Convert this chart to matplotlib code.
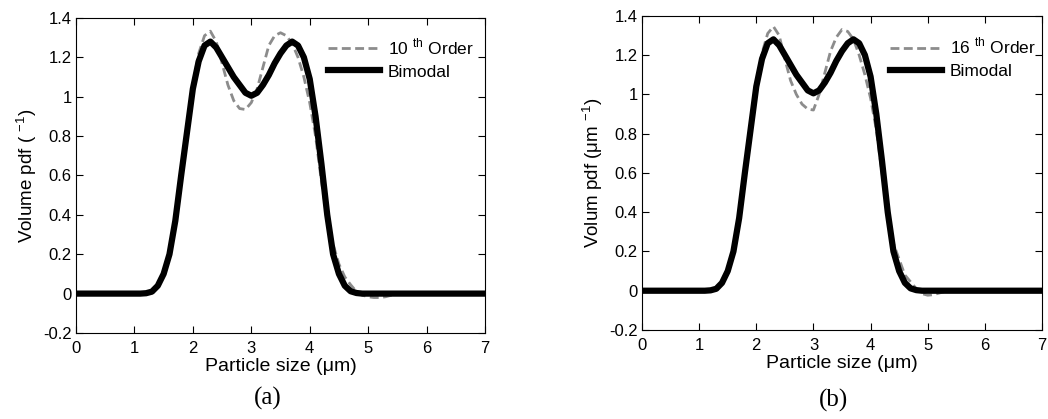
import matplotlib
matplotlib.use('Agg')
from matplotlib import pyplot as plt

plt.rcParams['font.family'] = ['Liberation Sans', 'DejaVu Sans']
plt.rcParams['mathtext.fontset'] = 'custom'
plt.rcParams['mathtext.rm'] = 'Liberation Sans'

# particle size grid (um)
size = [0, 1.0, 1.1, 1.2, 1.3, 1.4, 1.5, 1.6, 1.7, 1.8, 1.9, 2.0, 2.1, 2.2, 2.3, 2.4,
        2.5, 2.6, 2.7, 2.8, 2.9, 3.0, 3.1, 3.2, 3.3, 3.4, 3.5, 3.6, 3.7, 3.8, 3.9, 4.0,
        4.1, 4.2, 4.3, 4.4, 4.5, 4.6, 4.7, 4.8, 4.9, 5.0, 5.1, 5.2, 5.3, 5.4, 5.5, 5.6, 7]

bimodal = [0, 0, 0, 0.002, 0.01, 0.04, 0.1, 0.2, 0.37, 0.6, 0.82, 1.04, 1.18, 1.26, 1.28, 1.25,
           1.2, 1.15, 1.1, 1.06, 1.02, 1.005, 1.02, 1.06, 1.11, 1.17, 1.22, 1.26, 1.28, 1.26, 1.2, 1.09,
           0.9, 0.66, 0.4, 0.2, 0.1, 0.04, 0.012, 0.003, 0, 0, 0, 0, 0, 0, 0, 0, 0]

order10 = [0, 0, 0, 0.002, 0.01, 0.04, 0.1, 0.2, 0.37, 0.6, 0.83, 1.06, 1.22, 1.31, 1.333, 1.28,
           1.17, 1.06, 0.98, 0.94, 0.935, 0.97, 1.04, 1.15, 1.26, 1.31, 1.325, 1.31, 1.27, 1.2, 1.1, 0.97,
           0.8, 0.57, 0.38, 0.25, 0.15, 0.085, 0.045, 0.01, -0.008, -0.016, -0.02, -0.02, -0.016, -0.008, -0.002, 0, 0]

order16 = [0, 0, 0, 0.002, 0.01, 0.04, 0.1, 0.2, 0.37, 0.6, 0.83, 1.05, 1.21, 1.31, 1.345, 1.3,
           1.18, 1.07, 1.0, 0.95, 0.925, 0.92, 1.0, 1.11, 1.22, 1.29, 1.33, 1.32, 1.28, 1.2, 1.1, 0.98,
           0.82, 0.6, 0.38, 0.24, 0.16, 0.08, 0.045, 0.01, -0.015, -0.023, -0.02, -0.012, -0.004, 0, 0, 0, 0]

xticks = [0, 1, 2, 3, 4, 5, 6, 7]
yticks = [-0.2, 0, 0.2, 0.4, 0.6, 0.8, 1, 1.2, 1.4]


def draw(ax, approx, approx_label, ylabel, leg_anchor):
    ax.plot(size, approx, color='#8c8c8c', lw=2.0, ls=(0, (3.2, 1.6)), label=approx_label)
    ax.plot(size, bimodal, color='black', lw=4.5, label='Bimodal')
    ax.set_xlim(0, 7)
    ax.set_ylim(-0.2, 1.4)
    ax.set_xticks(xticks)
    ax.set_yticks(yticks)
    ax.set_yticklabels(['%g' % v for v in yticks])
    ax.tick_params(direction='in', top=True, right=True, labelsize=12, length=5, pad=3)
    ax.tick_params(axis='x', pad=6)
    ax.set_xlabel('Particle size (\u03bcm)', fontsize=14, labelpad=1)
    ax.set_ylabel(ylabel, fontsize=13.5, labelpad=3)
    ax.legend(loc='upper left', bbox_to_anchor=leg_anchor, frameon=False, fontsize=12.5,
              handlelength=3.0, handletextpad=0.45, labelspacing=0.4,
              borderpad=0, borderaxespad=0)


fig = plt.figure(figsize=(10.48, 4.19), dpi=100)
ax1 = fig.add_axes([0.0725, 0.2053, 0.3903, 0.7518])
ax2 = fig.add_axes([0.6126, 0.2124, 0.3817, 0.7500])

draw(ax1, order10, '10 $^{\\mathrm{th}}$ Order', 'Volume pdf ( $^{-1}$)', (0.616, 0.94))
draw(ax2, order16, '16 $^{\\mathrm{th}}$ Order', 'Volum pdf (\u03bcm $^{-1}$)', (0.62, 0.935))

fig.text(268 / 1048, 1 - 398 / 419, '(a)', family='Liberation Serif', fontsize=18, ha='center', va='center')
fig.text(834 / 1048, 1 - 400 / 419, '(b)', family='Liberation Serif', fontsize=18, ha='center', va='center')

fig.savefig('out.png', dpi=100)
